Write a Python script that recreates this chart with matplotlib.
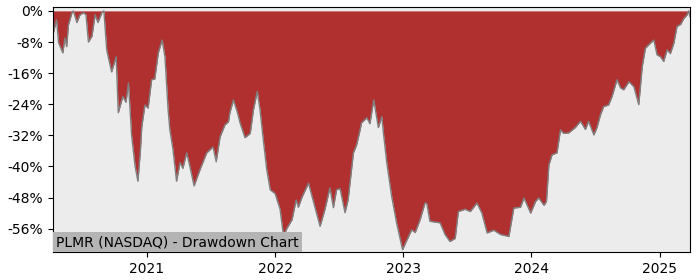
import pandas as pd
import numpy as np
import matplotlib
matplotlib.use('Agg')
import matplotlib.pyplot as plt
import matplotlib.dates as mdates

# 回撤数据
dates = ['2020-04-09', '2020-04-18', '2020-04-24', '2020-05-06', '2020-05-12', '2020-05-17',
         '2020-05-22', '2020-06-01', '2020-06-05', '2020-06-15', '2020-06-24', '2020-07-04',
         '2020-07-11', '2020-07-18', '2020-07-28', '2020-08-06', '2020-08-14', '2020-08-25',
         '2020-08-31', '2020-09-08', '2020-09-22', '2020-10-05', '2020-10-11', '2020-10-24',
         '2020-11-02', '2020-11-09', '2020-11-18', '2020-11-28', '2020-12-06', '2020-12-13',
         '2020-12-17', '2020-12-26', '2021-01-04', '2021-01-14', '2021-01-23', '2021-02-02',
         '2021-02-13', '2021-02-21', '2021-03-02', '2021-03-07', '2021-03-16', '2021-03-26',
         '2021-04-05', '2021-04-13', '2021-04-24', '2021-05-03', '2021-05-15', '2021-06-01',
         '2021-06-20', '2021-07-08', '2021-07-17', '2021-07-28', '2021-08-11', '2021-08-21',
         '2021-08-25', '2021-09-04', '2021-09-15', '2021-09-23', '2021-10-07', '2021-10-22',
         '2021-10-31', '2021-11-11', '2021-11-19', '2021-11-28', '2021-12-08', '2021-12-18',
         '2022-01-01', '2022-01-15', '2022-01-25', '2022-02-03', '2022-02-18', '2022-03-02',
         '2022-03-08', '2022-03-18', '2022-04-06', '2022-04-20', '2022-05-09', '2022-05-23',
         '2022-06-06', '2022-06-16', '2022-06-25', '2022-07-05', '2022-07-19', '2022-07-28',
         '2022-08-12', '2022-08-21', '2022-08-31', '2022-09-04', '2022-09-19', '2022-09-28',
         '2022-10-09', '2022-10-22', '2022-11-01', '2022-11-05', '2022-11-15', '2022-11-29',
         '2022-12-13', '2022-12-30', '2023-01-11', '2023-01-25', '2023-02-04', '2023-02-18',
         '2023-03-04', '2023-03-09', '2023-03-18', '2023-04-16', '2023-04-30', '2023-05-14',
         '2023-05-29', '2023-06-07', '2023-06-26', '2023-07-11', '2023-07-30', '2023-08-13',
         '2023-08-28', '2023-09-16', '2023-10-05', '2023-10-29', '2023-11-12', '2023-12-01',
         '2023-12-11', '2023-12-30', '2024-01-13', '2024-01-22', '2024-02-06', '2024-02-13',
         '2024-02-20', '2024-02-29', '2024-03-14', '2024-03-24', '2024-04-02', '2024-04-16',
         '2024-05-05', '2024-05-20', '2024-06-03', '2024-06-12', '2024-06-27', '2024-07-06',
         '2024-07-16', '2024-07-25', '2024-08-08', '2024-08-18', '2024-09-01', '2024-09-11',
         '2024-09-20', '2024-10-05', '2024-10-19', '2024-11-02', '2024-11-12', '2024-11-21',
         '2024-12-05', '2024-12-15', '2024-12-24', '2025-01-03', '2025-01-12', '2025-01-22',
         '2025-01-31', '2025-02-10', '2025-02-19', '2025-03-01', '2025-03-10', '2025-03-20',
         '2025-03-24', '2025-03-28']
drawdown = [-5.7, -2.3, -8.2, -10.8, -7.0, -9.2,
            -3.6, -0.5, 0.0, -3.0, -1.0, -0.5,
            -1.0, -8.0, -6.5, -1.0, -3.0, -0.5,
            0.0, -10.0, -15.7, -11.8, -26.2, -22.0,
            -23.5, -18.5, -32.0, -40.0, -43.8, -36.0,
            -29.8, -24.2, -25.0, -17.7, -17.5, -10.8,
            -7.5, -11.8, -25.4, -30.6, -35.7, -43.8,
            -39.0, -40.5, -36.5, -40.0, -45.0, -40.8,
            -36.5, -35.0, -38.8, -32.4, -29.3, -28.5,
            -26.2, -22.9, -26.0, -28.8, -32.6, -31.5,
            -25.5, -20.7, -25.5, -33.0, -40.8, -46.0,
            -47.0, -51.0, -58.0, -56.0, -53.7, -48.6,
            -50.5, -48.0, -44.3, -49.0, -55.4, -51.0,
            -45.5, -50.6, -46.0, -45.7, -51.9, -48.5,
            -36.5, -34.5, -30.6, -28.8, -27.5, -29.0,
            -22.9, -30.0, -27.2, -31.0, -39.0, -47.7,
            -54.5, -61.4, -59.0, -56.3, -57.0, -53.7,
            -49.4, -49.5, -54.1, -54.5, -57.5, -59.3,
            -58.5, -51.6, -51.0, -51.6, -49.4, -52.0,
            -57.1, -56.4, -57.5, -58.0, -50.7, -50.5,
            -48.1, -52.0, -49.0, -48.1, -50.0, -49.0,
            -39.6, -37.0, -36.5, -30.6, -31.5, -31.4,
            -30.0, -28.4, -30.5, -28.4, -31.9, -30.0,
            -26.7, -24.6, -24.2, -22.0, -17.7, -19.8,
            -20.3, -18.2, -19.5, -24.1, -14.3, -9.6,
            -8.3, -7.5, -11.3, -11.8, -13.0, -10.0,
            -11.0, -8.3, -4.0, -3.5, -2.0, -1.0,
            0.0, -1.5]
ytick_vals = [0, -8, -16, -24, -32, -40, -48, -56]
year_ticks = ['2021', '2022', '2023', '2024', '2025']
title = 'PLMR (NASDAQ) - Drawdown Chart'

x = pd.to_datetime(dates)
dd = np.array(drawdown)

fig = plt.figure(figsize=(7, 2.8), dpi=100)
ax = fig.add_axes([0.0757, 0.1, 0.91, 0.875])
ax.set_facecolor('#ececec')

ax.fill_between(x, dd, 0, color='#b03030', lw=0)
ax.plot(x, dd, color='#808080', lw=1)

ax.set_xlim(pd.Timestamp('2020-04-08'), pd.Timestamp('2025-03-28'))
ax.set_ylim(-62, 1)
ax.set_yticks(ytick_vals)
ax.set_yticklabels(['%d%%' % v for v in ytick_vals])
ax.set_xticks(pd.to_datetime([y + '-01-01' for y in year_ticks]))
ax.xaxis.set_major_formatter(mdates.DateFormatter('%Y'))
ax.tick_params(labelsize=10)

ax.text(0.005, 0.012, title, transform=ax.transAxes, fontsize=10, va='bottom', ha='left',
        bbox=dict(facecolor='#b4b4b4', edgecolor='none', pad=2))

fig.savefig('out.png', dpi=100)
